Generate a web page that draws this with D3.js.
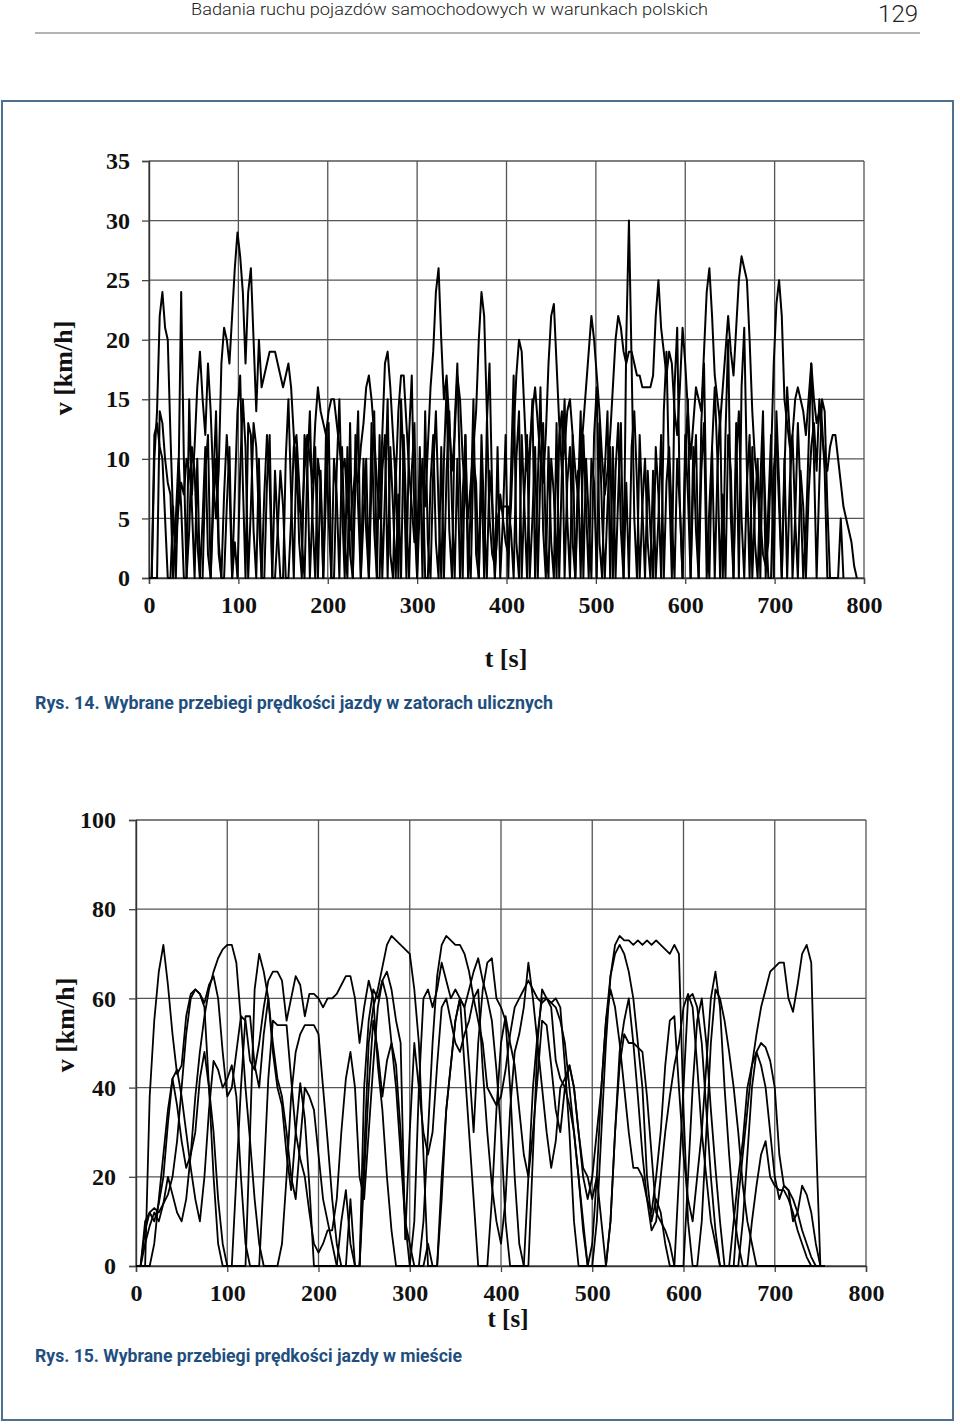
<!DOCTYPE html>
<html><head><meta charset="utf-8">
<script src="https://cdn.jsdelivr.net/npm/d3@7"></script>
<style>
html,body{margin:0;padding:0;background:#fff;}
svg{display:block;}
</style></head>
<body>
<script>
// ---------- DATA ----------
const xTickValues = [0,100,200,300,400,500,600,700,800];
const yTicksTop = [0,5,10,15,20,25,30,35];
const yTicksBottom = [0,20,40,60,80,100];
const headerText = "Badania ruchu pojazdów samochodowych w warunkach polskich";
const pageNumber = "129";
const caption14 = "Rys. 14. Wybrane przebiegi prędkości jazdy w zatorach ulicznych";
const caption15 = "Rys. 15. Wybrane przebiegi prędkości jazdy w mieście";
const xLabel = "t [s]";
const yLabel = "v [km/h]";

// Fig. 14: sampled every 3 s (speed in km/h)
const topStep = 3;
const congestionA = [
0,0,10,14,22,24,21,20,12,5, 3,6,8,7,10,9,7,11,16,19, 15,12,18,14,8,5,9,18,21,20,
18,22,26,29,27,24,18,24,26,20, 14,20,16,17,18,19,19,19,18,17, 16,17,18,16,12,8,6,5,9,12,
10,8,13,16,14,13,12,14,15,15, 13,11,9,10,6,4,7,9,8,11, 13,16,17,15,12,8,5,12,18,19,
16,12,8,14,17,17,13,9,6,3, 4,8,9,6,11,16,19,24,26,20, 15,17,13,9,12,17,15,10,7,5,
8,11,14,20,24,22,14,5,2,1, 4,7,5,3,2,6,12,17,20,19, 14,9,11,14,16,13,10,8,12,18,
22,23,18,13,9,11,14,15,12,9, 7,10,13,16,19,22,20,17,14,10, 7,9,12,16,20,22,21,19,18,19,
19,18,17,17,16,16,16,16,17,22, 25,21,19,17,19,18,14,12,16,21, 18,14,10,13,16,15,14,19,24,26,
22,17,15,13,16,19,22,19,17,21, 25,27,26,25,20,14,10,8,5,2, 1,3,10,18,23,25,22,15,13,11,
12,15,16,15,14,12,15,18,15,13, 14,12,10,9,11,12,12,10,8,6, 5,4,3,1,0];
const congestionB = [
0,0,12,13,11,10,5,0,0,6, 0,8,24,10,0,15,6,0,10,0, 5,11,2,0,8,14,3,0,0,6,
11,0,7,14,17,8,0,13,12,4, 0,10,0,0,8,12,0,9,4,0, 0,10,15,7,0,11,3,0,12,10,
0,6,11,0,9,0,12,5,0,10, 7,0,11,3,0,13,0,8,14,0, 5,10,0,13,4,0,12,0,7,15,
2,0,10,0,15,9,0,12,17,5, 0,11,0,14,3,0,9,14,6,0, 10,16,4,0,13,18,8,0,12,0,
6,15,2,0,9,0,13,18,7,0, 11,0,5,12,0,9,17,3,0,12, 6,0,10,15,0,8,16,4,0,11,
3,0,13,0,9,15,5,0,12,0, 7,14,0,10,5,0,12,16,3,0, 9,14,0,11,0,7,13,0,20,30,
18,5,0,12,6,0,9,4,0,11, 7,0,14,19,8,0,16,21,6,0, 10,15,0,8,12,0,13,18,4,0,
11,0,9,14,0,12,20,5,0,13, 0,16,21,9,0,11,3,0,8,14, 0,6,12,0,14,8,0,9,16,12,
0,5,13,7,0,4,11,18,10,0, 8,15,14,6,0,0,0,0,5,0];
const congestionC = [
0,0,0,0,14,13,10,8,7,0, 5,10,6,0,0,4,11,9,3,0, 0,9,12,0,6,10,2,0,7,12,
8,0,3,0,9,15,11,0,6,13, 11,5,0,7,12,8,0,0,4,9, 6,0,0,5,11,12,8,3,0,9,
14,5,0,10,8,0,7,13,0,0, 9,15,6,0,11,2,0,12,6,0, 10,4,0,8,14,0,0,9,12,0,
11,6,0,7,0,12,5,0,9,13, 0,6,10,0,0,8,12,3,0,11, 0,9,14,6,0,10,0,7,12,3,
0,10,8,0,12,5,0,9,6,0, 5,6,6,6,6,4,0,10,14,0, 7,12,0,5,11,0,9,13,3,0,
10,7,0,12,14,0,8,11,3,0, 9,0,12,6,0,10,8,0,13,5, 0,6,11,0,9,13,4,0,8,0,
11,14,8,0,6,10,3,0,9,0, 5,12,0,8,11,5,0,10,6,0, 12,7,0,11,4,0,9,13,0,6,
11,16,10,0,7,0,12,9,0,10, 14,5,0,8,12,0,6,10,0,12, 5,0,0,9,12,6,0,10,0,8,
12,5,0,9,6,0,7,11,13,9, 15,13,9,0,0];

// Fig. 15: sampled every 5 s (speed in km/h)
const cityStep = 5;
const cityA = [
0,0,0,38,55,66,72,63,52,43, 45,56,61,62,61,58,40,20,5,0, 0,0,0,0,0,30,62,70,66,60,
48,40,36,25,17,30,41,33,18,0, 0,0,0,0,0,10,17,5,0,0, 25,50,58,62,67,72,74,73,72,71,
70,62,50,25,0,0,0,15,35,45, 55,60,58,62,66,69,64,60,55,44, 30,10,0,0,0,0,20,40,52,60,
60,59,60,58,45,30,10,0,0,0, 5,20,40,55,65,70,72,70,66,60, 50,40,20,10,15,12,5,0,0,20,
40,60,61,58,50,35,20,8,0,0, 0,0,0,10,25,40,48,50,49,46, 40,25,18,17,15,12,8,5,2,0, 0,0];
const cityB = [
0,0,8,12,13,12,14,16,20,28, 40,52,60,62,61,59,63,65,60,48, 38,40,48,56,55,46,44,50,58,64,
66,66,64,55,60,65,63,56,61,61, 60,58,60,60,61,63,65,65,60,50, 58,64,60,45,35,20,8,0,0,0,
0,10,40,60,62,58,62,68,64,60, 62,60,58,45,30,50,62,68,69,60, 58,55,40,20,5,0,0,25,50,62,
60,58,46,42,40,36,30,20,8,0, 0,0,0,0,10,30,45,52,50,50, 49,48,38,25,12,10,8,5,0,0,
0,20,40,55,60,50,35,22,10,0, 0,0,15,25,35,45,52,58,62,66, 67,68,68,60,57,63,70,72,68,30, 0,0];
const cityC = [
0,0,0,0,5,15,25,35,42,36, 28,22,25,38,48,56,62,66,69,71, 72,72,68,55,40,28,15,5,0,0,
0,0,5,20,38,48,52,54,54,54, 52,40,28,15,5,0,0,0,0,0, 20,40,55,48,38,46,50,45,30,10,
0,0,0,10,30,50,65,72,74,73, 72,72,70,66,60,55,50,40,38,36, 38,44,52,58,60,62,64,62,60,59,
60,59,58,55,50,40,30,20,10,0, 0,10,30,50,65,72,74,73,73,72, 73,72,73,72,73,72,71,70,72,70,
35,10,0,0,10,30,50,62,60,55, 48,40,30,18,10,5,0,0,0,0, 0,0,0,0,0,0,0,0,0,0, 0,0];
const cityD = [
0,0,10,12,10,14,20,32,42,44, 38,30,22,15,10,20,35,46,44,40, 42,45,38,20,5,0,0,0,20,42,
55,54,54,54,42,30,24,20,12,5, 3,5,8,8,15,30,42,48,40,20, 15,30,45,58,64,66,62,55,50,6,
30,50,40,30,25,30,45,58,60,55, 50,48,52,55,60,62,44,30,18,10, 5,15,35,48,52,58,68,60,50,40,
30,22,28,40,42,45,40,30,22,20, 15,20,10,0,10,30,48,55,60,50, 38,25,15,8,10,20,30,38,45,50,
58,61,58,45,30,20,10,5,0,0, 0,10,20,28,40,45,48,45,40,30, 20,15,18,17,10,12,18,16,12,5, 0,0];
const cityE = [
0,0,5,9,12,10,14,20,16,12, 10,15,25,30,42,48,40,30,15,5, 0,0,20,40,56,56,45,40,52,60,
50,42,38,30,20,15,28,40,38,35, 25,15,10,5,0,0,0,15,0,0, 40,55,62,60,64,60,50,40,25,10,
5,0,0,0,5,0,0,20,35,45, 55,60,45,30,15,0,0,0,15,35, 50,56,50,45,35,25,20,30,42,55,
54,45,35,30,40,45,40,30,20,15, 20,30,40,55,62,58,50,40,30,22, 22,20,15,12,20,30,45,55,56,40,
25,15,10,20,30,45,60,66,58,40, 25,12,5,0,0,10,18,25,28,20, 18,17,17,15,12,8,5,2,0,0, 0,0];

// ---------- DRAW ----------
const svg = d3.select("body").append("svg").attr("width",960).attr("height",1425);
svg.append("rect").attr("width",960).attr("height",1425).attr("fill","#fff");

// header
svg.append("text").attr("x",191).attr("y",15).attr("textLength",517).attr("lengthAdjust","spacingAndGlyphs")
  .style("font-family","Roboto, 'Open Sans', sans-serif").style("font-weight",300).style("font-size","17px")
  .attr("fill","#222").text(headerText);
svg.append("text").attr("x",918).attr("y",22).attr("text-anchor","end")
  .style("font-family","Roboto, sans-serif").style("font-weight",300).style("font-size","24px")
  .attr("fill","#222").text(pageNumber);
svg.append("line").attr("x1",35).attr("x2",920).attr("y1",33).attr("y2",33).attr("stroke","#9a9a9a").attr("stroke-width",1.6);

// frame
svg.append("rect").attr("x",2).attr("y",101).attr("width",951).attr("height",1319)
  .attr("fill","none").attr("stroke","#4d6f90").attr("stroke-width",2);

const serif = "'Liberation Serif','Times New Roman',serif";

function drawChart(cfg){
  const g = svg.append("g");
  const x = d3.scaleLinear().domain([0,800]).range([cfg.x0,cfg.x1]);
  const y = d3.scaleLinear().domain([0,cfg.yMax]).range([cfg.y0,cfg.y1]);
  // grid
  g.append("g").selectAll("line").data(cfg.yTicks).join("line")
    .attr("x1",x(0)).attr("x2",x(800)).attr("y1",d=>y(d)).attr("y2",d=>y(d))
    .attr("stroke","#555").attr("stroke-width",1.3);
  g.append("g").selectAll("line").data(xTickValues).join("line")
    .attr("x1",d=>x(d)).attr("x2",d=>x(d)).attr("y1",y(0)).attr("y2",y(cfg.yMax))
    .attr("stroke","#555").attr("stroke-width",1.3);
  // axes
  const ay = g.append("g").attr("transform",`translate(${x(0)},0)`)
    .call(d3.axisLeft(y).tickValues(cfg.yTicks).tickSize(7).tickPadding(cfg.yPad).tickFormat(d3.format("d")));
  const ax = g.append("g").attr("transform",`translate(0,${y(0)})`)
    .call(d3.axisBottom(x).tickValues(xTickValues).tickSize(6).tickPadding(cfg.xPad).tickFormat(d3.format("d")));
  [ay,ax].forEach(a=>{
    a.select(".domain").attr("stroke","#333").attr("stroke-width",1.4);
    a.selectAll(".tick line").attr("stroke","#444").attr("stroke-width",1.3);
    a.selectAll("text").style("font-family",serif).style("font-weight","bold")
      .style("font-size",cfg.fs+"px").attr("fill","#111");
  });
  // series
  const line = d3.line().x((d,i)=>x(i*cfg.step)).y(d=>y(d));
  cfg.series.forEach(s=>{
    g.append("path").datum(s).attr("d",line).attr("fill","none")
      .attr("stroke","#000").attr("stroke-width",cfg.lw).attr("stroke-linejoin","round");
  });
  // axis titles
  g.append("text").attr("x",cfg.xtX).attr("y",cfg.xtY).attr("text-anchor","middle")
    .style("font-family",serif).style("font-weight","bold").style("font-size",cfg.tfs+"px").attr("fill","#111").text(xLabel);
  g.append("text").attr("transform",`translate(${cfg.ytX},${cfg.ytY}) rotate(-90)`).attr("text-anchor","middle")
    .style("font-family",serif).style("font-weight","bold").style("font-size","26px").attr("fill","#111").text(yLabel);
}

drawChart({x0:149,x1:864,y0:578,y1:161,yMax:35,yTicks:yTicksTop,yPad:12,xPad:12,fs:24,tfs:26,
  step:topStep,series:[congestionA,congestionB,congestionC],lw:2,
  xtX:506,xtY:667,ytX:72,ytY:368});
drawChart({x0:136,x1:866,y0:1266,y1:820,yMax:100,yTicks:yTicksBottom,yPad:13,xPad:12,fs:24,tfs:25,
  step:cityStep,series:[cityA,cityB,cityC,cityD,cityE],lw:1.8,
  xtX:508,xtY:1327,ytX:74,ytY:1025});

// captions
svg.append("text").attr("x",35).attr("y",709).attr("textLength",518).attr("lengthAdjust","spacingAndGlyphs")
  .style("font-family","Roboto, sans-serif").style("font-weight",700).style("font-size","18px")
  .attr("fill","#1f4f80").text(caption14);
svg.append("text").attr("x",35).attr("y",1362).attr("textLength",427).attr("lengthAdjust","spacingAndGlyphs")
  .style("font-family","Roboto, sans-serif").style("font-weight",700).style("font-size","18px")
  .attr("fill","#1f4f80").text(caption15);
</script>
</body></html>
